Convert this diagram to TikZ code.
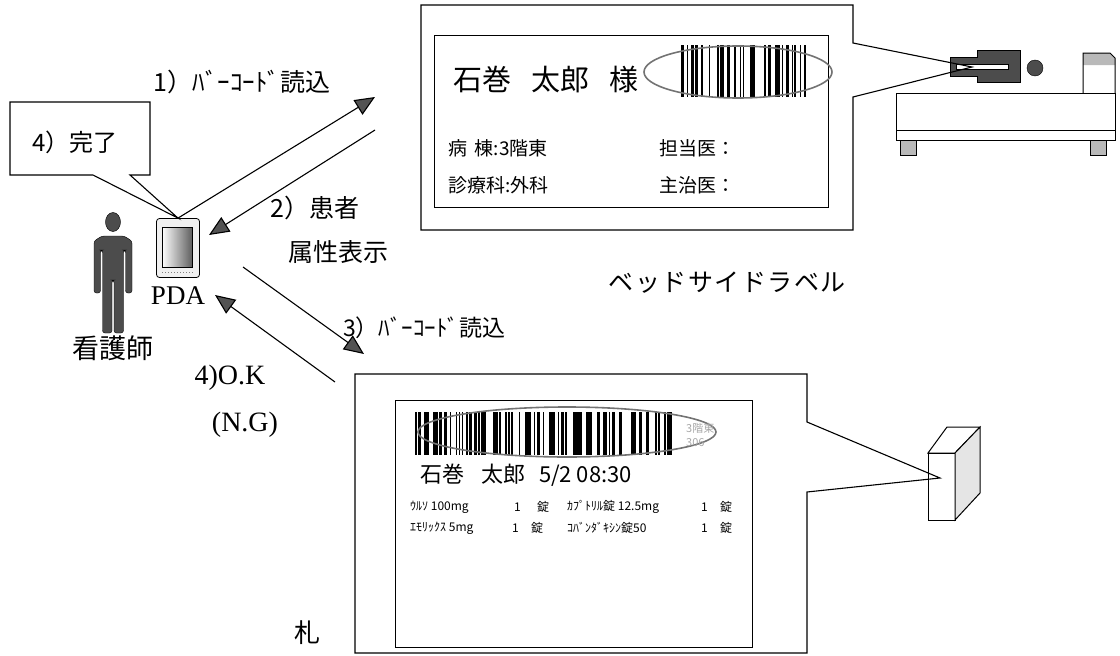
\documentclass[tikz,border=0pt]{standalone}
\usepackage{fontspec}
\setmainfont{Liberation Serif}
\newfontfamily\jp{Noto Sans CJK JP}
\newfontfamily\jpwide[LetterSpace=6]{Noto Sans CJK JP}
\usetikzlibrary{arrows.meta}
\usetikzlibrary{positioning}
\newcommand{\fs}[1]{\fontsize{#1}{#1}\selectfont}

\begin{document}
\begin{tikzpicture}[x=1pt,y=-1pt,
  frame/.style={line width=1.1pt},
  labelrect/.style={draw,line width=.7pt,inner sep=0pt,anchor=north west},
  flow/.style={line width=1.1pt,-{Triangle[length=20,width=17,fill=gray!65!black]}},
  ring/.style={draw=black!55,line width=1.6pt},
  darkfill/.style={fill=gray!60!black,draw=black,line width=.4pt},
  jt/.style={font=\jp\fs{#1},inner sep=0pt},
  drug/.style={font=\jp\fs{12},inner sep=0pt,anchor=west}
]
\useasboundingbox (0,0) rectangle (1120,656);

% nurse
\draw[darkfill] (113,222) ellipse [x radius=7.5, y radius=9.5];
\draw[darkfill, rounded corners=2.5] (94,241) -- (94,293) -- (100.5,293) -- (100.5,250) -- (102.5,250)
  -- (102.5,333) -- (112,333) -- (112,280) -- (114,280) -- (114,333) -- (123.5,333) -- (123.5,250)
  -- (125.5,250) -- (125.5,293) -- (132,293) -- (132,241) -- (124,236) -- (102,236) -- cycle;
\node[jt=27] (nursename) at (113,348) {看護師};

% handheld terminal
\node[draw, fill=gray!12, rounded corners=3, minimum width=43, minimum height=59, line width=.8pt] (pda) at (178,248) {};
\shade[left color=white, right color=gray!75!black, draw=black, line width=.6pt]
  ([shift={(6,9)}]pda.north west) rectangle ([shift={(-8,-11)}]pda.south east);
\draw[gray, dotted, line width=1pt] ([shift={(6,-5)}]pda.south west) -- ([shift={(-6,-5)}]pda.south east);
\node[font=\fs{27}, inner sep=0pt, below=9pt of pda] (pdaname) {PDA};

% balloon: finished
\draw[frame, fill=white] (10,102) -- (150,102) -- (150,175) -- (130,175) -- (pda.north)
  -- (93,175) -- (10,175) -- cycle;
\node[jt=24] (done) at (75,142) {4）完了};

% scan / reply arrows
\coordinate (bar1) at (375,97);
\coordinate (ret1) at (375,130);
\coordinate (pdain) at (209,235);
\coordinate (out3) at (243,267);
\coordinate (bar2) at (364,354);
\coordinate (ret2) at (335,382);
\coordinate (pdaok) at (215,295);
\draw[flow] (pda.north) -- (bar1);
\draw[flow] (ret1) -- (pdain);
\draw[flow] (out3) -- (bar2);
\draw[flow] (ret2) -- (pdaok);

\node[jt=25] (step1) at (242,82) {1）ﾊﾞｰｺｰﾄﾞ読込};
\node[jt=25] (step2) at (315,208) {2）患者};
\node[jt=25] (step2b) at (338,252) {属性表示};
\node[jt=23, anchor=west] (step3) at (343,328) {3）ﾊﾞｰｺｰﾄﾞ読込};
\node[font=\fs{28}, inner sep=0pt] (okmsg) at (230,378) {4)O.K};
\node[font=\fs{28}, inner sep=0pt] (ngmsg) at (245,425) {(N.G)};

% bed with patient
\draw[line width=1pt] (896,93) rectangle (1115,140);
\draw[line width=.8pt] (896,130) -- (1115,130);
\draw[fill=gray!55] (900,140) rectangle (916,155);
\draw[fill=gray!55] (1090,140) rectangle (1106,155);
\fill[gray!55] (1083,53) -- (1110,53) -- (1115,58) -- (1115,65) -- (1083,65) -- cycle;
\draw[line width=1pt] (1083,93) -- (1083,53) -- (1110,53) -- (1115,58) -- (1115,93);
\draw[darkfill] (977,50) -- (1020,50) -- (1020,82) -- (977,82) -- (977,76) -- (950,76)
  -- (950,57) -- (977,57) -- cycle;
\draw[fill=white, line width=.4pt] (956,64) rectangle (1008,69);
\draw[darkfill] (1035,68) circle (8);

% bedside label
\coordinate (bedtip) at (972,67);
\draw[frame] (421,5) -- (853,5) -- (853,43) -- (bedtip) -- (853,97) -- (853,230) -- (421,230) -- cycle;
\node[labelrect, minimum width=394, minimum height=172] (bedlabel) at (434,35) {};
\node[jt=29] (patient) at (546,80) {石巻\hspace{.7em}太郎\hspace{.7em}様};
\pgfmathsetseed{12}
\foreach \i in {0,...,89} {
  \pgfmathtruncatemacro\on{rnd<0.5}
  \ifnum\on=1 \fill (681+\i*1.4,45) rectangle ++(1.4,52); \fi
}
\draw[ring] (738,72) ellipse [x radius=94, y radius=26];
\node[jt=19, anchor=west] (ward) at (448,148) {病\hspace{.4em}棟:3階東};
\node[jt=19, anchor=west] (doc1) at (659,148) {担当医：};
\node[jt=19, anchor=west] (dept) at (448,185) {診療科:外科};
\node[jt=19, anchor=west] (doc2) at (659,185) {主治医：};
\node[font=\jpwide\fs{25}, inner sep=0pt] (bedcaption) at (727,283) {ベッドサイドラベル};

% tag block
\draw[line width=1pt, fill=white] (928,453) -- (947,427) -- (980,427) -- (955,453) -- cycle;
\draw[line width=1pt, fill=white] (928,453) rectangle (955,520);
\draw[line width=1pt, fill=gray!20] (955,453) -- (980,427) -- (980,493) -- (955,520) -- cycle;

% medication tag
\coordinate (tagtip) at (940,478);
\draw[frame] (355,374) -- (807,374) -- (807,422) -- (tagtip) -- (807,492) -- (807,653) -- (355,653) -- cycle;
\node[labelrect, minimum width=357, minimum height=247] (taglabel) at (395,400) {};
\pgfmathsetseed{5}
\foreach \i in {0,...,171} {
  \pgfmathtruncatemacro\on{rnd<0.5}
  \ifnum\on=1 \fill (415+\i*1.5,412) rectangle ++(1.5,43); \fi
}
\draw[ring] (567,432) ellipse [x radius=149, y radius=25];
\node[jt=11, anchor=west, text=gray!70] (ward2) at (686,428) {3階東};
\node[jt=11, anchor=west, text=gray!70] (room) at (686,443) {306};
\node[jt=22, anchor=west] (patient2) at (420,475) {石巻\hspace{.8em}太郎\hspace{.6em}5/2 08:30};
\node[drug] (d1) at (410,507) {ｳﾙｿ 100mg};
\node[drug] (n1) at (514,507) {1};
\node[drug] (u1) at (537,507) {錠};
\node[drug] (d2) at (567,507) {ｶﾌﾟﾄﾘﾙ錠 12.5mg};
\node[drug] (n2) at (701,507) {1};
\node[drug] (u2) at (720,507) {錠};
\node[drug] (d3) at (410,528) {ｴﾓﾘｯｸｽ 5mg};
\node[drug] (n3) at (512,528) {1};
\node[drug] (u3) at (531,528) {錠};
\node[drug] (d4) at (567,528) {ｺﾊﾞﾝﾀﾞｷｼﾝ錠50};
\node[drug] (n4) at (701,528) {1};
\node[drug] (u4) at (720,528) {錠};
\node[jt=26] (tagcaption) at (307,633) {札};

\end{tikzpicture}
\end{document}
